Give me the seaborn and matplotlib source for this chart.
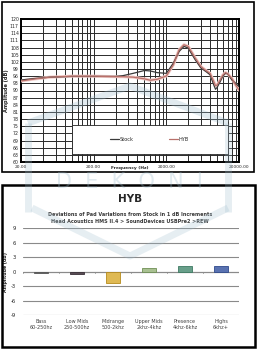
import numpy as np
import pandas as pd
import seaborn as sns
import matplotlib.pyplot as plt
from matplotlib.patches import Rectangle
from matplotlib.ticker import FixedLocator, NullFormatter

sns.set_style('white')
plt.rcParams['font.family'] = ['DejaVu Sans']
plt.rcParams['axes.unicode_minus'] = False

# frequency response
freq = [20, 30, 50, 100, 200, 400, 500, 700, 1000, 1200, 1500, 2000, 2500, 3000, 3500,
        4000, 5000, 6000, 7000, 8000, 9000, 9500, 10000, 11000, 12000, 13000, 14000,
        16000, 18000, 20000]
stock = [94.4, 95.0, 95.6, 95.9, 95.9, 95.9, 96.2, 97.2, 98.4, 98.2, 97.5, 97.2, 101.5,
         106.4, 108.5, 107.8, 102.9, 99.4, 98.0, 96.6, 92.3, 90.5, 91.3, 93.7, 96.1,
         97.2, 97.0, 94.4, 93.0, 91.6]
hyb = [94.0, 94.8, 95.6, 96.0, 96.0, 95.8, 95.8, 95.6, 94.9, 94.3, 94.7, 96.1, 100.8,
       107.1, 109.2, 108.5, 103.6, 100.0, 98.4, 97.2, 93.7, 92.0, 92.3, 94.4, 96.5,
       97.5, 97.0, 95.0, 92.3, 90.2]

# deviations per band
bands = ['Bass\n60-250hz', 'Low Mids\n250-500hz', 'Midrange\n500-2khz',
         'Upper Mids\n2khz-4khz', 'Presence\n4khz-6khz', 'Highs\n6khz+']
deviation = [-0.2, -0.4, -2.3, 0.8, 1.1, 1.2]
bar_colors = ['#6f6f6f', '#5a4a55', '#f6c33c', '#a9c98a', '#5fa88c', '#4a6cc0']
bar_edges = ['#555555', '#3a3038', '#b58a1c', '#6f8f55', '#3d7a62', '#2f4a8c']

fig = plt.figure(figsize=(2.58, 3.5), dpi=100)
W, H = 258, 350

# ---- top panel: frequency response
ax1 = fig.add_axes([21 / W, 1 - 162 / H, 218 / W, 143 / H])
fr = pd.DataFrame({'Frequency': freq * 2,
                   'Amplitude': stock + hyb,
                   'Pad': ['Stock'] * len(freq) + ['HYB'] * len(freq)})
sns.lineplot(data=fr[fr.Pad == 'HYB'], x='Frequency', y='Amplitude', ax=ax1,
             color='#f0c8c4', lw=2.2, zorder=3, legend=False)
sns.lineplot(data=fr, x='Frequency', y='Amplitude', hue='Pad', ax=ax1,
             palette={'Stock': '#3a3a3a', 'HYB': '#b8706a'}, lw=0.9, zorder=4)
ax1.set_xscale('log')
ax1.set_xlim(20, 20000)
ax1.set_ylim(60, 120)
ax1.set_yticks(np.arange(60, 121, 3))
ax1.set_xticks([20, 200, 2000, 20000])
ax1.set_xticklabels(['20.00', '200.00', '2000.00', '20000.00'])
minor = [20 * k * 10 ** d for d in range(3) for k in range(2, 10)]
ax1.xaxis.set_minor_locator(FixedLocator(minor))
ax1.xaxis.set_minor_formatter(NullFormatter())
ax1.grid(True, which='both', color='#2a2a2a', lw=0.7)
ax1.tick_params(axis='y', labelsize=3.3, length=0, pad=1.5)
ax1.tick_params(axis='x', labelsize=3.2, length=0, pad=2)
ax1.tick_params(axis='x', which='minor', length=0)
for s in ax1.spines.values():
    s.set_linewidth(1.4)
    s.set_color('black')
ax1.set_xlabel('')
ax1.set_ylabel('Amplitude (dB)', fontsize=3.6, fontweight='bold', labelpad=1)
ax1.text(0.5, -0.045, 'Frequency (Hz)', transform=ax1.transAxes, fontsize=3.2,
         fontweight='bold', ha='center', va='center')

# legend box
ax1.add_patch(Rectangle((0.234, 0.056), 0.716, 0.203, transform=ax1.transAxes,
                        facecolor='white', edgecolor='#222222', lw=0.6, zorder=5))
handles, labels = ax1.get_legend_handles_labels()
leg = ax1.legend(handles, labels, loc='center', bbox_to_anchor=(0.59, 0.157), ncol=2,
                 frameon=False, fontsize=3.6, handlelength=1.8, columnspacing=7,
                 handletextpad=0.2)
leg.set_zorder(6)

# ---- bottom panel: deviations
ax2 = fig.add_axes([23 / W, 1 - 315 / H, 216 / W, 86.7 / H])
dev = pd.DataFrame({'Band': bands, 'Deviation': deviation})
sns.barplot(data=dev, x='Band', y='Deviation', hue='Band', palette=bar_colors,
            legend=False, width=0.38, ax=ax2, zorder=3)
for p, ec in zip(ax2.patches, bar_edges):
    p.set_edgecolor(ec)
    p.set_linewidth(0.6)
ax2.set_ylim(-9, 9)
ax2.set_yticks(np.arange(-9, 10, 3))
ax2.set_xlim(-0.5, 5.5)
ax2.grid(True, axis='y', color='#8a8a8a', lw=0.8)
for s in ax2.spines.values():
    s.set_visible(False)
ax2.axhline(0, color='#8a8a8a', lw=0.8, zorder=2)
for b in np.arange(-0.5, 6, 1):
    ax2.plot([b, b], [0, -0.35], color='#8a8a8a', lw=0.6, zorder=2)
ax2.tick_params(axis='y', labelsize=3.8, length=0, pad=5)
ax2.tick_params(axis='x', labelsize=3.5, length=0, pad=3, colors='#404040')
ax2.set_xlabel('')
ax2.set_ylabel('Amplitude (dB)', fontsize=3.3, fontweight='bold', labelpad=2)

fig.text(130 / W, 1 - 199 / H, 'HYB', fontsize=7.5, fontweight='bold',
         ha='center', va='center')
fig.text(130 / W, 1 - 214 / H, 'Deviations of Pad Variations from Stock in 1 dB Increments',
         fontsize=3.5, fontweight='bold', ha='center', va='center', color='#3a3a3a')
fig.text(130 / W, 1 - 222 / H, 'Head Acoustics HMS II.4 > SoundDevices USBPre2 >REW',
         fontsize=3.5, fontweight='bold', ha='center', va='center', color='#3a3a3a')

# ---- overlay: panel borders and watermark
ov = fig.add_axes([0, 0, 1, 1], zorder=10)
ov.set_xlim(0, W)
ov.set_ylim(H, 0)
ov.axis('off')
ov.patch.set_alpha(0)
wm = '#9dbccd'
ov.plot([28, 130, 228], [123, 86, 123], color=wm, lw=5, alpha=0.3, solid_capstyle='butt')
ov.plot([28, 28], [123, 212], color=wm, lw=5, alpha=0.25, solid_capstyle='butt')
ov.plot([228, 228], [123, 212], color=wm, lw=5, alpha=0.25, solid_capstyle='butt')
ov.plot([32, 130, 228], [208, 256, 208], color=wm, lw=5, alpha=0.25, solid_capstyle='butt')
ov.text(129, 182, 'D  E  K  O  N  I', fontsize=15, color=wm, alpha=0.3,
        ha='center', va='center')
ov.add_patch(Rectangle((2, 2), 252, 170, facecolor='none', edgecolor='black', lw=1.2))
ov.add_patch(Rectangle((2, 185), 253, 162, facecolor='none', edgecolor='black', lw=1.8))

fig.savefig('out.png', dpi=100)
